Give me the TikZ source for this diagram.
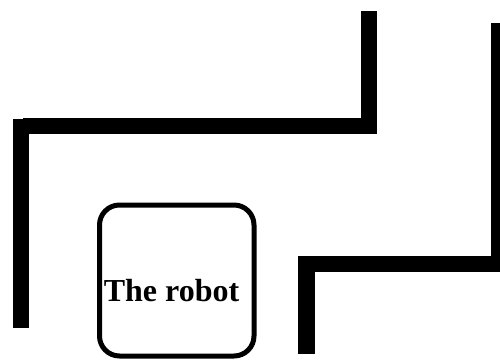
\documentclass[tikz,border=0pt]{standalone}
\usepackage{fontspec}
\setmainfont{Liberation Serif}
\begin{document}
\begin{tikzpicture}[x=1pt,y=-1pt,
  wall/.style={fill=black,draw=none},
  robotbox/.style={draw=black,line width=5pt,rounded corners=20pt,fill=white,minimum width=154.5pt,minimum height=151pt,inner sep=0pt},
  robottext/.style={font=\bfseries\fontsize{32}{38}\selectfont,inner sep=0pt}]
\useasboundingbox (0,0) rectangle (500,359);
\fill[white] (0,0) rectangle (500,359);
% upper-left wall
\fill[wall] (13,119) rectangle (29,328);
\fill[wall] (23,118) rectangle (377,134);
\fill[wall] (361,11) rectangle (377,134);
% right wall
\fill[wall] (491,23) rectangle (502,272);
\fill[wall] (298,256) rectangle (502,272);
\fill[wall] (298,256) rectangle (315,354);
% robot
\node[robotbox] (robot) at (176.75,280.5) {};
\node[robottext,anchor=base] (lbl) at (171.5,301) {The robot};
\end{tikzpicture}
\end{document}
